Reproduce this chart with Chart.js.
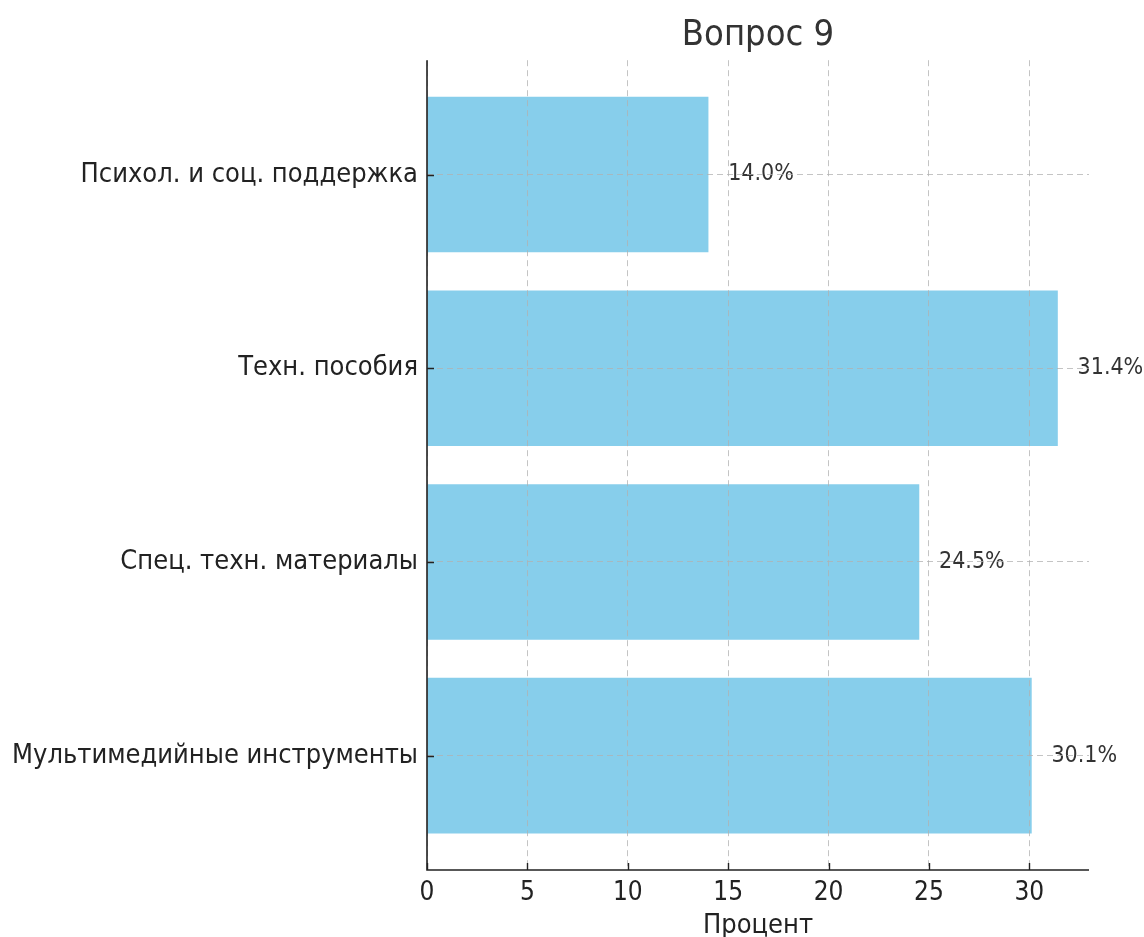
<!DOCTYPE html>
<html>
<head>
<meta charset="utf-8">
<script src="https://cdn.jsdelivr.net/npm/chart.js@4.4.0/dist/chart.umd.min.js"></script>
<style>
  html, body { margin: 0; padding: 0; background: #fff; }
  #wrap { width: 1144px; height: 937px; }
</style>
</head>
<body>
<div id="wrap"><canvas id="chart"></canvas></div>
<script>
const categories = ['Психол. и соц. поддержка', 'Техн. пособия', 'Спец. техн. материалы', 'Мультимедийные инструменты'];
const percents = [14.0, 31.4, 24.5, 30.1];
const xTicks = [0, 5, 10, 15, 20, 25, 30];

const FONT = '"DejaVu Sans Condensed", "DejaVu Sans", sans-serif';
const gridColor = 'rgba(176, 176, 176, 0.75)';
const axisColor = '#222';

// value labels to the right of each bar
const valueLabels = {
    id: 'valueLabels',
    afterDatasetsDraw(chart) {
        const ctx = chart.ctx;
        const meta = chart.getDatasetMeta(0);
        const xs = chart.scales.x;
        ctx.save();
        ctx.font = '23px ' + FONT;
        ctx.fillStyle = '#333';
        ctx.textAlign = 'left';
        ctx.textBaseline = 'middle';
        meta.data.forEach((bar, i) => {
            ctx.fillText(percents[i].toFixed(1) + '%', xs.getPixelForValue(percents[i] + 1), bar.y);
        });
        ctx.restore();
    }
};

// left/bottom spines with inward tick marks
const spines = {
    id: 'spines',
    afterDraw(chart) {
        const ctx = chart.ctx;
        const a = chart.chartArea;
        const xs = chart.scales.x, ys = chart.scales.y;
        ctx.save();
        ctx.strokeStyle = axisColor;
        ctx.lineWidth = 1.6;
        ctx.beginPath();
        ctx.moveTo(a.left, a.top);
        ctx.lineTo(a.left, a.bottom);
        ctx.lineTo(a.right, a.bottom);
        ctx.stroke();
        ctx.lineWidth = 1.4;
        ctx.beginPath();
        xs.ticks.forEach(t => {
            const px = Math.round(xs.getPixelForValue(t.value)) + 0.5;
            ctx.moveTo(px, a.bottom);
            ctx.lineTo(px, a.bottom - 7);
        });
        ys.ticks.forEach(t => {
            const py = Math.round(ys.getPixelForValue(t.value)) + 0.5;
            ctx.moveTo(a.left, py);
            ctx.lineTo(a.left + 7, py);
        });
        ctx.stroke();
        ctx.restore();
    }
};

const ctx = document.getElementById('chart').getContext('2d');
const chart = new Chart(ctx, {
    type: 'bar',
    data: {
        datasets: [{
            label: 'Процент',
            data: percents.map((v, i) => ({ x: v, y: i })),
            backgroundColor: '#87CEEB',
            borderWidth: 0,
            barThickness: 155
        }]
    },
    options: {
        indexAxis: 'y',
        responsive: true,
        maintainAspectRatio: false,
        animation: false,
        layout: { padding: { left: 0, right: 55, top: 0, bottom: 0 } },
        plugins: {
            legend: { display: false },
            tooltip: { enabled: false },
            title: {
                display: true,
                text: 'Вопрос 9',
                fullSize: false,
                color: '#333',
                font: { family: FONT, size: 36, weight: 'normal' },
                padding: { top: 14, bottom: 3 }
            }
        },
        scales: {
            x: {
                type: 'linear',
                min: 0,
                max: 32.97,
                afterBuildTicks: s => { s.ticks = xTicks.map(v => ({ value: v })); },
                ticks: { color: axisColor, font: { family: FONT, size: 26 }, padding: 8 },
                grid: { z: 1, color: gridColor, lineWidth: 1, drawTicks: false },
                border: { display: false, dash: [6, 4] },
                title: { display: true, text: 'Процент', color: axisColor, font: { family: FONT, size: 27 }, padding: { top: 0, bottom: -5 } },
                afterFit: s => { s.height = 67; }
            },
            y: {
                type: 'linear',
                reverse: true,
                offset: false,
                min: -0.59,
                max: 3.59,
                afterBuildTicks: s => { s.ticks = categories.map((c, i) => ({ value: i })); },
                ticks: { color: axisColor, font: { family: FONT, size: 27 }, padding: 9, callback: v => categories[v] },
                grid: { z: 1, offset: false, color: gridColor, lineWidth: 1, drawTicks: false },
                border: { display: false, dash: [6, 4] },
                afterFit: s => { s.width = 427; }
            }
        }
    },
    plugins: [valueLabels, spines]
});
</script>
</body>
</html>
